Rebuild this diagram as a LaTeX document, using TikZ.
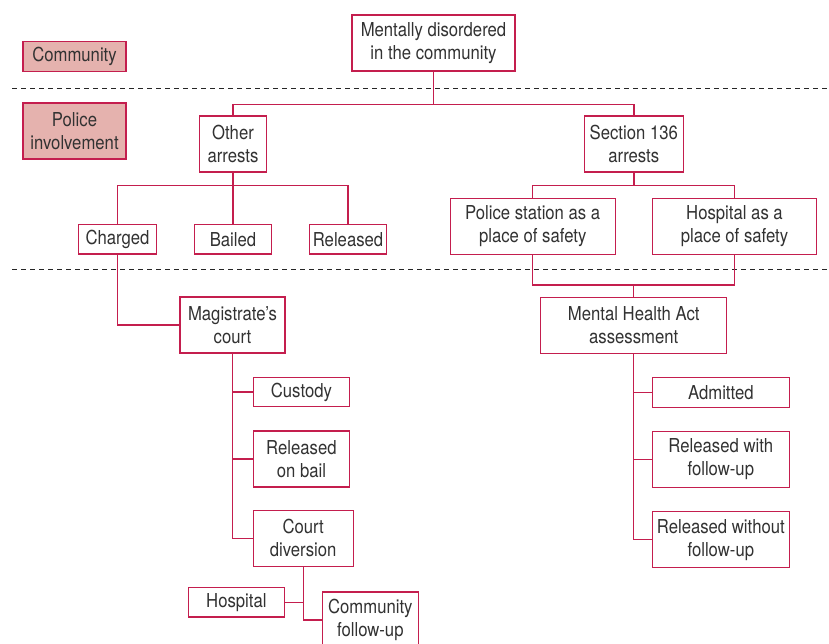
\documentclass[tikz,border=0pt]{standalone}
\usepackage{fontspec}
\setmainfont{TeX Gyre Heros}[FakeStretch=0.87]
\usepackage{xcolor}
\usepackage{tikz}
\definecolor{crimson}{RGB}{196,30,78}
\definecolor{rosefill}{RGB}{229,178,174}
\definecolor{textgrey}{RGB}{50,50,50}

\begin{document}
\begin{tikzpicture}[x=1pt,y=-1pt,
  box/.style={draw=crimson,line width=1.1pt,fill=white,text=textgrey,align=center,inner sep=0pt,
    font=\fontsize{19.2}{22.8}\selectfont},
  onel/.style={minimum height=29.3pt},
  twol/.style={minimum height=56pt},
  areabox/.style={box,fill=rosefill},
  link/.style={draw=crimson,line width=1.4pt},
  zone/.style={draw=black!85,line width=1.1pt,dash pattern=on 5pt off 4pt}]
\useasboundingbox (0,0) rectangle (829,644);
\clip (0,0) rectangle (829,644);

\draw [zone] (12,88.3) -- (829,88.3);
\draw [zone] (12,269.3) -- (829,269.3);

\node (community) [areabox,onel,minimum width=103pt] at (74.5,56.5) {Community};
\node (police) [areabox,twol,minimum width=103pt] at (74.5,131) {Police\\involvement};

\node (mentally) [box,twol,minimum width=163pt] at (433.5,43) {Mentally disordered\\in the community};

\node (otherarr) [box,twol,minimum width=67.4pt] at (233,144) {Other\\arrests};
\node (sec136) [box,twol,minimum width=99pt] at (633.8,144) {Section 136\\arrests};

\node (charged) [box,onel,minimum width=77.6pt] at (117.5,239.3) {Charged};
\node (bailed) [box,onel,minimum width=77.3pt] at (233,239.3) {Bailed};
\node (released) [box,onel,minimum width=77.4pt] at (348,239.3) {Released};

\node (polstation) [box,twol,minimum width=164.7pt] at (532.7,226.2) {Police station as a\\place of safety};
\node (hospsafe) [box,twol,minimum width=164.4pt] at (734.5,226.2) {Hospital as a\\place of safety};

\node (mha) [box,twol,minimum width=186pt] at (633.7,325.3) {Mental Health Act\\assessment};
\node (magcourt) [box,twol,minimum width=105pt] at (232.5,325) {Magistrate's\\court};

\node (custody) [box,onel,minimum width=96.7pt] at (301.4,392) {Custody};
\node (relbail) [box,twol,minimum width=96.7pt] at (301.4,459) {Released\\on bail};
\node (courtdiv) [box,twol,minimum width=100.3pt] at (303.2,538.2) {Court\\diversion};
\node (hospital) [box,onel,minimum width=96.7pt] at (236.4,602.3) {Hospital};
\node (commfu) [box,twol,minimum width=96pt] at (370.3,620) {Community\\follow-up};

\node (admitted) [box,onel,minimum width=137pt] at (720.8,392.5) {Admitted};
\node (relwith) [box,twol,minimum width=137pt] at (720.8,459.3) {Released with\\follow-up};
\node (relwithout) [box,twol,minimum width=137pt] at (720.8,539.7) {Released without\\follow-up};

\coordinate (topbar) at (433.5,104.3);
\coordinate (leftbar) at (233,185.3);
\coordinate (rightbar) at (633.8,185.7);
\coordinate (joinbar) at (633.7,285);

\draw [link] (mentally.south) -- (topbar);
\draw [link] (otherarr.north) |- (topbar) -| (sec136.north);

\draw [link] (otherarr.south) -- (bailed.north);
\draw [link] (charged.north) |- (leftbar) -| (released.north);

\draw [link] (sec136.south) -- (rightbar);
\draw [link] (polstation.north) |- (rightbar) -| (hospsafe.north);

\draw [link] (polstation.south) |- (joinbar) -| (hospsafe.south);
\draw [link] (joinbar) -- (mha.north);

\draw [link] (charged.south) |- (magcourt.west);
\draw [link] (magcourt.south) |- (custody.west);
\draw [link] (magcourt.south) |- (relbail.west);
\draw [link] (magcourt.south) |- (courtdiv.west);

\draw [link] (courtdiv.south) |- (commfu.west);
\draw [link] (courtdiv.south |- hospital.east) -- (hospital.east);

\draw [link] (mha.south) |- (admitted.west);
\draw [link] (mha.south) |- (relwith.west);
\draw [link] (mha.south) |- (relwithout.west);
\end{tikzpicture}
\end{document}
